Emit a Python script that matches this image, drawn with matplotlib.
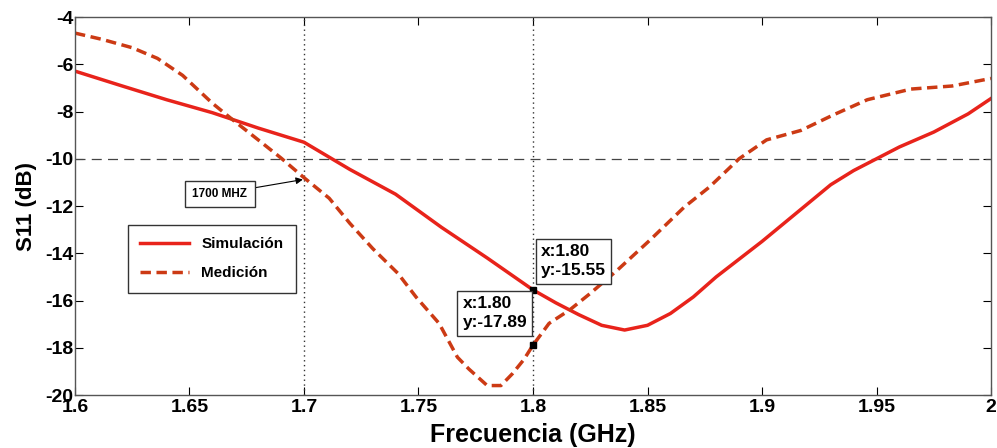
import matplotlib
matplotlib.use("Agg")
import matplotlib.pyplot as plt

plt.rcParams['font.family'] = ['Liberation Sans', 'DejaVu Sans']
plt.rcParams['axes.unicode_minus'] = False

# simulated S11
sim_f = [1.60, 1.62, 1.64, 1.66, 1.68, 1.70, 1.72, 1.74, 1.76, 1.78, 1.80, 1.81, 1.82,
         1.83, 1.84, 1.85, 1.86, 1.87, 1.88, 1.89, 1.90, 1.915, 1.93, 1.94, 1.95, 1.96,
         1.975, 1.99, 2.00]
sim_s11 = [-6.29, -6.9, -7.5, -8.05, -8.7, -9.3, -10.45, -11.5, -12.9, -14.2, -15.55, -16.1, -16.6,
           -17.05, -17.25, -17.05, -16.55, -15.85, -15.0, -14.25, -13.5, -12.3, -11.1, -10.5,
           -10.0, -9.5, -8.87, -8.1, -7.45]

# measured S11
med_f = [1.600, 1.612, 1.625, 1.636, 1.647, 1.660, 1.669, 1.680, 1.690, 1.700, 1.711, 1.720,
         1.730, 1.741, 1.749, 1.759, 1.767, 1.772, 1.780, 1.786, 1.791, 1.796, 1.800, 1.807,
         1.816, 1.825, 1.837, 1.851, 1.866, 1.877, 1.890, 1.902, 1.917, 1.931, 1.946, 1.965,
         1.983, 2.000]
med_s11 = [-4.68, -4.95, -5.3, -5.75, -6.47, -7.65, -8.36, -9.2, -9.97, -10.8, -11.67, -12.73,
           -13.8, -14.85, -15.86, -16.97, -18.4, -18.9, -19.6, -19.6, -19.1, -18.5, -17.89, -16.97,
           -16.4, -15.7, -14.7, -13.45, -12.05, -11.2, -10.0, -9.2, -8.8, -8.15, -7.5, -7.05,
           -6.92, -6.6]

xticks = [1.6, 1.65, 1.7, 1.75, 1.8, 1.85, 1.9, 1.95, 2.0]
xtick_labels = ['1.6', '1.65', '1.7', '1.75', '1.8', '1.85', '1.9', '1.95', '2']
yticks = [-20, -18, -16, -14, -12, -10, -8, -6, -4]

fig = plt.figure(figsize=(9.97, 4.48), dpi=100)
ax = fig.add_axes([0.0752, 0.1183, 0.9188, 0.8437])

ax.axhline(-10, color='#444444', lw=0.9, ls=(0, (8, 5)))
ax.axvline(1.7, color='#333333', lw=1.0, ls=(0, (1, 2.5)))
ax.axvline(1.8, color='#333333', lw=1.0, ls=(0, (1, 2.5)))

ax.plot(sim_f, sim_s11, color='#e8231b', lw=2.5, label='Simulación')
ax.plot(med_f, med_s11, color='#cc3a14', lw=2.5, ls=(0, (3.0, 1.6)), label='Medición')

# data cursors
ax.plot([1.8], [-15.55], 's', color='black', ms=5)
ax.plot([1.8], [-17.89], 's', color='black', ms=5)
box = dict(boxstyle='square,pad=0.3', fc='white', ec='#333333', lw=1)
ax.text(1.8035, -14.34, 'x:1.80\ny:-15.55', fontsize=12.5, fontweight='bold',
        va='center', ha='left', multialignment='left', bbox=box, linespacing=1.35)
ax.text(1.7975, -16.54, 'x:1.80\ny:-17.89', fontsize=12.5, fontweight='bold',
        va='center', ha='right', multialignment='left', bbox=box, linespacing=1.35)

ax.annotate('1700 MHZ', xy=(1.6995, -10.88), xytext=(1.6633, -11.48),
            fontsize=8.5, fontweight='bold', va='center', ha='center',
            bbox=dict(boxstyle='square,pad=0.6', fc='white', ec='#333333', lw=1),
            arrowprops=dict(arrowstyle='-|>', color='black', lw=0.8, mutation_scale=10,
                            shrinkA=0, shrinkB=0))

leg = ax.legend(loc='upper left', bbox_to_anchor=(0.058, 0.45), borderaxespad=0,
                prop={'weight': 'bold', 'size': 11},
                handlelength=3.2, fancybox=False, edgecolor='#333333', framealpha=1,
                borderpad=0.8, labelspacing=1.0, handletextpad=0.8)
leg.get_frame().set_linewidth(1)

ax.set_xlim(1.6, 2.0)
ax.set_ylim(-20, -4)
ax.set_xticks(xticks)
ax.set_xticklabels(xtick_labels)
ax.set_yticks(yticks)
ax.tick_params(direction='in', top=True, right=True, length=6, width=0.8,
               labelsize=14, pad=1)
ax.tick_params(axis='x', pad=3)
for lbl in ax.get_xticklabels() + ax.get_yticklabels():
    lbl.set_fontweight('bold')
for s in ax.spines.values():
    s.set_color('#555555')
    s.set_linewidth(1)

ax.set_xlabel('Frecuencia (GHz)', fontsize=18, fontweight='bold')
ax.xaxis.set_label_coords(0.5, -0.075)
ax.set_ylabel('S11 (dB)', fontsize=16, fontweight='bold', labelpad=6)

fig.savefig('out.png', dpi=100)
